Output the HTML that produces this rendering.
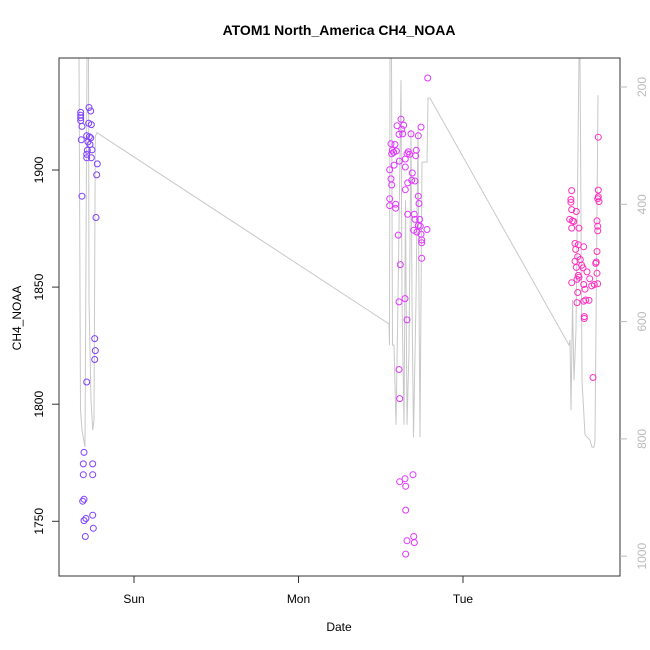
<!DOCTYPE html>
<html><head><meta charset="utf-8"><style>
html,body{margin:0;padding:0;background:#fff}
svg{display:block;font-family:"Liberation Sans",sans-serif}
</style></head><body>
<svg id="chart" width="650" height="650" viewBox="0 0 650 650" xmlns="http://www.w3.org/2000/svg">
<text x="339" y="35" font-size="14" font-weight="bold" text-anchor="middle">ATOM1 North_America CH4_NOAA</text>
<text x="339" y="631" font-size="12" text-anchor="middle">Date</text>
<text x="0" y="0" font-size="12" text-anchor="middle" transform="translate(21,318) rotate(-90)">CH4_NOAA</text>
<defs><clipPath id="clip"><rect x="59" y="58" width="561" height="518"/></clipPath></defs>
<g id="lines" clip-path="url(#clip)"></g>
<g id="pts" clip-path="url(#clip)"></g>
<rect x="59" y="58" width="561" height="518" fill="none" stroke="#333" stroke-width="1"/>
<g id="axes"></g>
</svg>
<script>
// x ticks (hours since Sat 00:00)
const xTickHours = [24, 48, 72];
const xTickLabels = ["Sun", "Mon", "Tue"];
const yTicks = [1750, 1800, 1850, 1900];
const pTicks = [200, 400, 600, 800, 1000];

// CH4 observations: hours and values per flight cluster
const c1Hours = [16.22,16.22,16.22,16.22,17.43,17.68,17.39,17.77,16.41,16.31,17.10,17.48,17.68,17.29,17.58,17.87,17.19,17.10,17.77,17.10,18.65,18.56,16.41,18.45,18.27,18.35,18.27,17.10,16.71,16.60,17.97,16.60,17.97,16.71,16.52,16.99,16.71,17.97,18.06,16.89];
const c1Values = [1924.6,1923.4,1922.3,1921.1,1926.7,1925.2,1920,1919.4,1918.6,1912.9,1914.6,1914.2,1913.7,1912,1910.9,1908.6,1908.4,1906.7,1905.2,1905.2,1902.6,1897.9,1888.8,1879.7,1828,1822.9,1819.1,1809.5,1779.4,1774.5,1774.5,1769.9,1769.9,1759.4,1758.6,1751.2,1750.3,1752.6,1747,1743.5];
const c2Hours = [66.85,62.95,62.37,63.35,63.06,62.66,63.20,64.42,65.48,65.87,61.50,62.08,61.69,61.89,62.27,61.60,64.02,63.83,64.22,65.19,65.10,63.59,62.72,61.95,63.59,61.31,64.61,61.50,61.60,64.52,65.00,63.93,63.59,65.48,65.58,61.31,61.31,62.18,62.18,63.93,64.90,65.68,65.00,65.48,65.77,64.81,66.75,65.29,65.87,65.97,65.97,62.56,65.97,62.85,62.66,63.54,63.83,62.66,62.76,64.70,62.76,63.54,63.64,63.64,63.83,64.81,64.90,63.64];
const c2Values = [1939.3,1921.7,1918.9,1919.1,1917.4,1915.2,1915.4,1915.4,1914.6,1918.3,1911.2,1910.9,1908.4,1907.5,1908.1,1906.9,1907.8,1906.9,1906.7,1908.4,1906.1,1904.7,1903.8,1902.1,1901.3,1900.1,1898.7,1896.2,1893.6,1895.6,1895.3,1894.5,1891.6,1888.8,1885.7,1887.7,1884.8,1885.4,1883.7,1881.1,1881.1,1878.9,1878.9,1876.3,1876,1874.3,1874.6,1873.5,1872.6,1870.1,1868.9,1872.2,1862.3,1859.6,1843.7,1845.1,1836,1814.8,1802.4,1769.9,1766.9,1768.2,1765,1754.8,1741.7,1743.5,1740.9,1736];
const c3Hours = [91.74,87.86,87.75,87.75,87.86,88.53,87.57,87.95,88.15,87.86,88.93,91.74,91.74,91.65,91.84,91.55,91.65,91.65,88.34,88.82,89.61,91.55,88.44,88.73,89.11,88.34,89.32,88.53,91.45,91.36,89.51,90.09,88.82,88.93,90.49,88.63,91.55,87.86,89.61,91.16,91.65,90.78,89.80,88.73,89.90,89.61,90.38,88.63,89.70,89.70,90.97];
const c3Values = [1914,1891.2,1887.4,1886.2,1883.1,1882.3,1878.9,1878.3,1878,1875.2,1875.2,1891.4,1888.5,1887.7,1886.5,1878.3,1876,1874,1868.6,1868.1,1867.2,1865.2,1866.1,1863,1861.8,1861,1859.3,1858.4,1860.7,1860.1,1858.2,1856.5,1855,1854.2,1853.6,1853.3,1855.9,1851.9,1851.1,1851.1,1851.4,1850.5,1849.1,1847.7,1844.5,1844,1844.3,1843.4,1837.4,1836.6,1811.4];

// pressure trace (right axis, reversed)
const pHours = [15.98,16.19,16.41,16.85,17.14,17.36,17.43,17.73,17.97,18.16,18.35,18.60,
 61.20,61.28,61.35,61.57,61.72,61.93,62.23,62.52,62.95,63.10,63.39,63.61,63.83,64.12,64.41,64.56,64.78,65.15,65.44,65.58,65.73,66.02,66.75,66.90,67.19,
 87.47,87.61,87.76,87.98,88.20,88.49,88.93,89.07,89.36,89.80,90.53,90.82,91.11,91.26,91.70];
const pValues = [145,751,785,814,145,145,563,734,785,768,284,278,
 604,640,145,145,640,640,776,563,188,563,776,393,776,648,273,563,797,563,273,563,797,328,328,219,219,
 640,631,751,563,700,614,145,145,700,793,802,814,814,802,214];

const X = h => -30.5 + h * 6.854;
const Y = v => 170 + (1900 - v) * 2.342;
const YR = p => 87 + (p - 200) * 0.5865;
const NS = "http://www.w3.org/2000/svg";
const svg = document.getElementById('chart');
function mk(tag, attrs, parent) {
  const e = document.createElementNS(NS, tag);
  for (const k in attrs) e.setAttribute(k, attrs[k]);
  parent.appendChild(e);
  return e;
}

const lg = document.getElementById('lines');
const pl = mk('polyline', {points: pHours.map((h, i) => X(h).toFixed(1) + ',' + YR(pValues[i]).toFixed(1)).join(' '), fill: 'none', stroke: '#c8c8c8', 'stroke-width': 1}, lg);



const pg = document.getElementById('pts');
function drawPts(hours, vals, color, name) {
  hours.forEach((h, i) => {
    const c = mk('circle', {cx: X(h).toFixed(1), cy: Y(vals[i]).toFixed(1), r: 3, fill: 'none', stroke: color, 'stroke-width': 1}, pg);
    
    
  });
}
drawPts(c1Hours, c1Values, '#7f40ff', 'ch4-point-flight1');
drawPts(c2Hours, c2Values, '#e038ff', 'ch4-point-flight2');
drawPts(c3Hours, c3Values, '#ff30c0', 'ch4-point-flight3');

const ax = document.getElementById('axes');
xTickHours.forEach((h, i) => {
  const x = X(h);
  const t = mk('line', {x1: x, x2: x, y1: 576, y2: 583, stroke: '#333'}, ax);
  
  
  const l = mk('text', {x: x, y: 603, 'font-size': 12, 'text-anchor': 'middle'}, ax);
  l.textContent = xTickLabels[i];
  
  
});
yTicks.forEach(v => {
  const y = Y(v);
  const t = mk('line', {x1: 52, x2: 59, y1: y, y2: y, stroke: '#333'}, ax);
  
  
  const l = mk('text', {x: 0, y: 0, 'font-size': 12, 'text-anchor': 'middle', transform: 'translate(43,' + y + ') rotate(-90)'}, ax);
  l.textContent = v;
  
  
});
pTicks.forEach(p => {
  const y = YR(p);
  const t = mk('line', {x1: 620, x2: 627, y1: y, y2: y, stroke: '#bbb'}, ax);
  
  
  const l = mk('text', {x: 0, y: 0, 'font-size': 12, fill: '#bbb', 'text-anchor': 'middle', transform: 'translate(646,' + y + ') rotate(-90)'}, ax);
  l.textContent = p;
  
  
});
</script>
</body></html>
